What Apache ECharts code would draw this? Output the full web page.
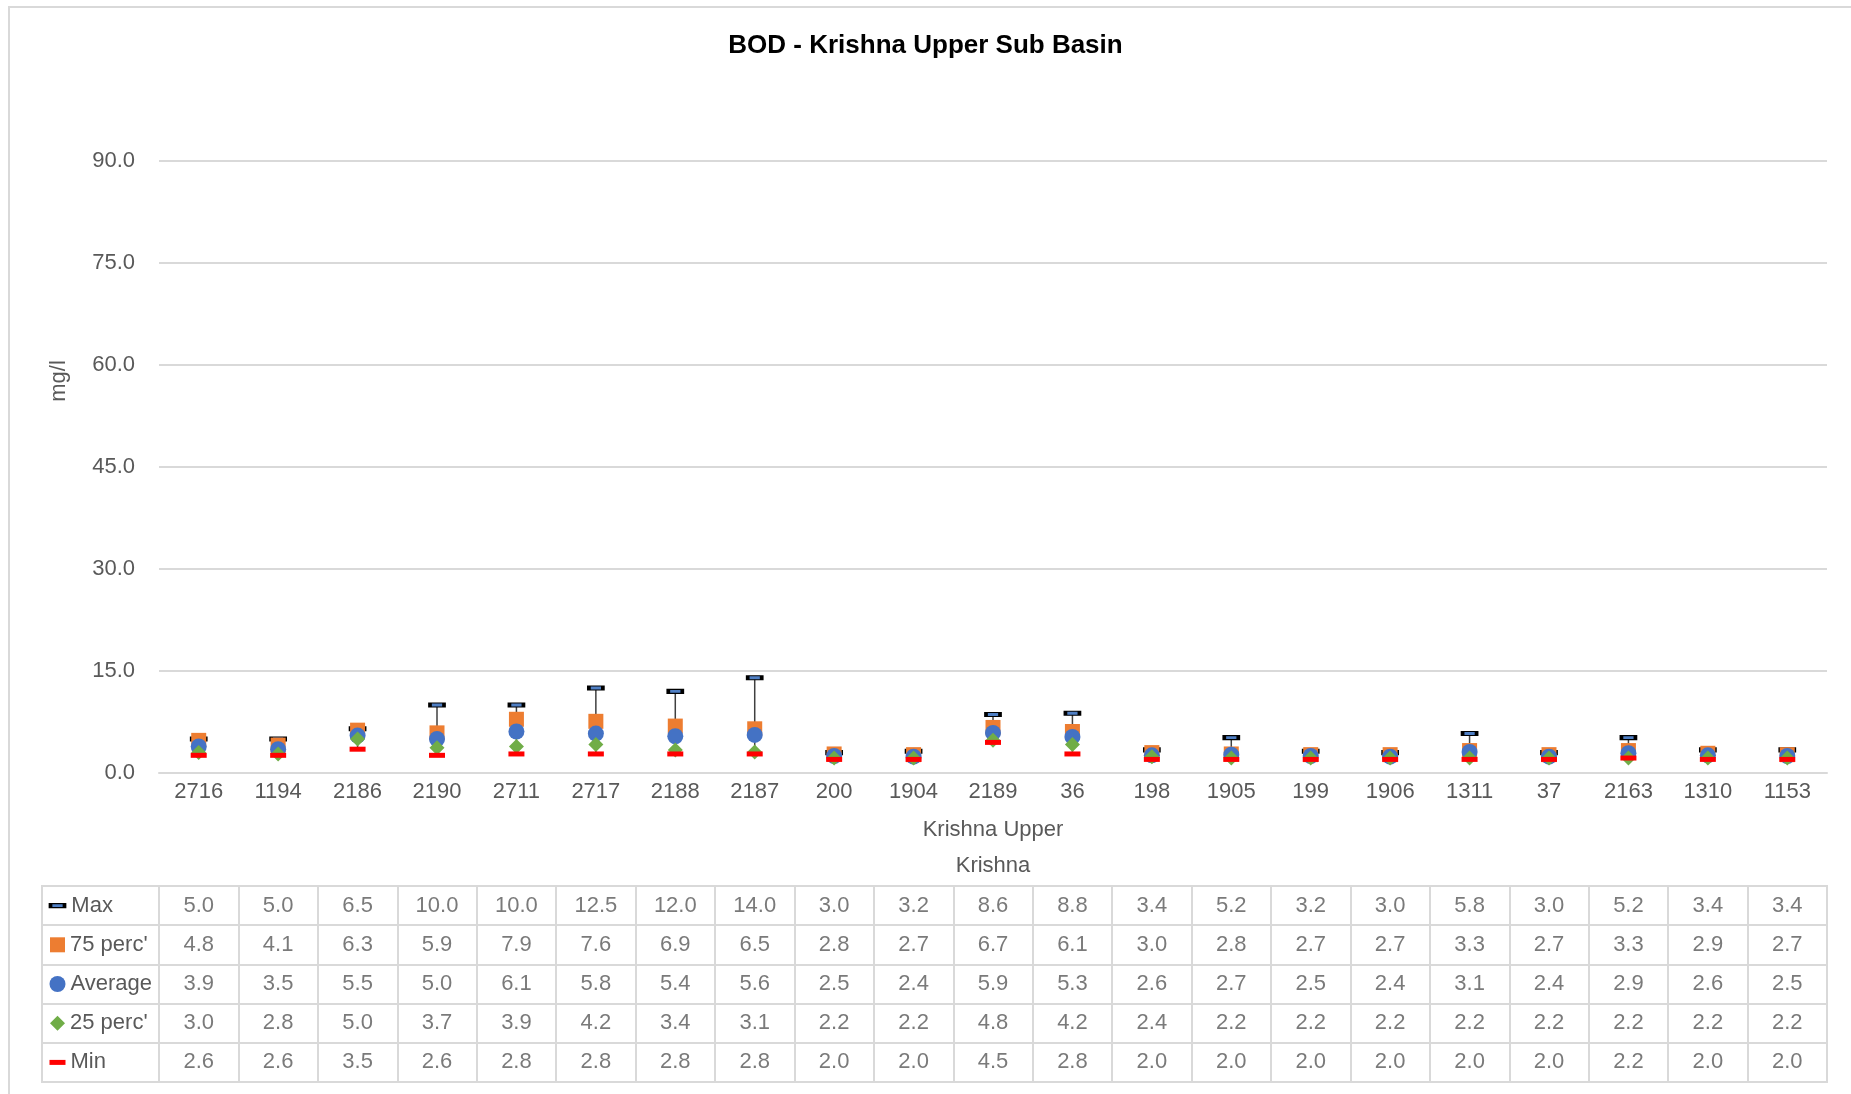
<!DOCTYPE html>
<html>
<head>
<meta charset="utf-8">
<title>BOD - Krishna Upper Sub Basin</title>
<script src="https://cdn.jsdelivr.net/npm/echarts@6/dist/echarts.min.js"></script>
<style>
    html, body { margin: 0; padding: 0; background: #fff; }
    #chart { width: 1851px; height: 1094px; }
</style>
</head>
<body>
<div id="chart"></div>
<script>
var sites = ['2716', '1194', '2186', '2190', '2711', '2717', '2188', '2187', '200', '1904', '2189',
             '36', '198', '1905', '199', '1906', '1311', '37', '2163', '1310', '1153'];
var maxVals = [5.0, 5.0, 6.5, 10.0, 10.0, 12.5, 12.0, 14.0, 3.0, 3.2, 8.6, 8.8, 3.4, 5.2, 3.2, 3.0, 5.8, 3.0, 5.2, 3.4, 3.4];
var p75Vals = [4.8, 4.1, 6.3, 5.9, 7.9, 7.6, 6.9, 6.5, 2.8, 2.7, 6.7, 6.1, 3.0, 2.8, 2.7, 2.7, 3.3, 2.7, 3.3, 2.9, 2.7];
var avgVals = [3.9, 3.5, 5.5, 5.0, 6.1, 5.8, 5.4, 5.6, 2.5, 2.4, 5.9, 5.3, 2.6, 2.7, 2.5, 2.4, 3.1, 2.4, 2.9, 2.6, 2.5];
var p25Vals = [3.0, 2.8, 5.0, 3.7, 3.9, 4.2, 3.4, 3.1, 2.2, 2.2, 4.8, 4.2, 2.4, 2.2, 2.2, 2.2, 2.2, 2.2, 2.2, 2.2, 2.2];
var minVals = [2.6, 2.6, 3.5, 2.6, 2.8, 2.8, 2.8, 2.8, 2.0, 2.0, 4.5, 2.8, 2.0, 2.0, 2.0, 2.0, 2.0, 2.0, 2.2, 2.0, 2.0];
var rowNames = ['Max', "75 perc'", 'Average', "25 perc'", 'Min'];
var subBasin = ['Krishna Upper'];
var basin = ['Krishna'];

var font = "'Liberation Sans Narrow', 'Arial Narrow', 'Liberation Sans', Arial, sans-serif";
var fs = 22;
var txtCol = '#595959';
var lineCol = '#D9D9D9';

// marker look of each row (Max, 75, Average, 25, Min)
var rowSymbols = [
    { symbol: 'rect', symbolSize: [14, 4], itemStyle: { color: '#4f7fc4', borderColor: '#000', borderWidth: 2, opacity: 1 } },
    { symbol: 'rect', symbolSize: 15, itemStyle: { color: '#ED7D31', opacity: 1 } },
    { symbol: 'circle', symbolSize: 16, itemStyle: { color: '#4472C4', opacity: 1 } },
    { symbol: 'diamond', symbolSize: 15, itemStyle: { color: '#70AD47', opacity: 1 } },
    { symbol: 'rect', symbolSize: [16, 5], itemStyle: { color: '#FF0000', opacity: 1 } }
];
var rowData = [maxVals, p75Vals, avgVals, p25Vals, minVals];

var series = [];

// high-low line behind the markers
series.push({
    type: 'custom',
    xAxisIndex: 0,
    yAxisIndex: 0,
    z: 1,
    silent: true,
    data: sites.map(function (s, i) { return [i, minVals[i], maxVals[i]]; }),
    renderItem: function (params, api) {
        var lo = api.coord([api.value(0), api.value(1)]);
        var hi = api.coord([api.value(0), api.value(2)]);
        return {
            type: 'line',
            shape: { x1: lo[0], y1: lo[1], x2: hi[0], y2: hi[1] },
            style: { stroke: '#404040', lineWidth: 1.5 }
        };
    }
});

for (var k = 0; k < rowNames.length; k++) {
    series.push({
        name: rowNames[k],
        type: 'scatter',
        xAxisIndex: 0,
        yAxisIndex: 0,
        z: 2,
        symbol: rowSymbols[k].symbol,
        symbolSize: rowSymbols[k].symbolSize,
        itemStyle: rowSymbols[k].itemStyle,
        data: rowData[k]
    });
}

// data table values
var cells = [];
rowData.forEach(function (vals, r) {
    vals.forEach(function (v, i) { cells.push([i, r, v]); });
});
series.push({
    type: 'scatter',
    xAxisIndex: 3,
    yAxisIndex: 1,
    silent: true,
    symbolSize: 1,
    itemStyle: { color: 'rgba(0,0,0,0)' },
    label: {
        show: true,
        position: 'inside',
        fontFamily: font,
        fontSize: fs,
        color: txtCol,
        formatter: function (p) { return p.value[2].toFixed(1); }
    },
    data: cells
});

// legend keys in the table's first column
series.push({
    type: 'scatter',
    xAxisIndex: 4,
    yAxisIndex: 2,
    silent: true,
    label: {
        show: true,
        position: 'right',
        distance: 5,
        fontFamily: font,
        fontSize: fs,
        color: txtCol,
        formatter: function (p) { return p.name; }
    },
    data: rowNames.map(function (n, r) {
        return {
            name: n,
            value: [15.5, r],
            symbol: rowSymbols[r].symbol,
            symbolSize: rowSymbols[r].symbolSize,
            itemStyle: rowSymbols[r].itemStyle
        };
    })
});

var hidden = { axisLine: { show: false }, axisTick: { show: false }, axisLabel: { show: false } };

var option = {
    backgroundColor: '#fff',
    animation: false,
    title: {
        text: 'BOD - Krishna Upper Sub Basin',
        left: 'center',
        top: 33,
        padding: [0, 0, 0, 9],
        textStyle: { fontFamily: font, fontSize: 26, fontWeight: 'bold', color: '#000' }
    },
    graphic: [
        {
            type: 'rect',
            shape: { x: 9, y: 7, width: 1900, height: 1200 },
            style: { fill: 'none', stroke: lineCol, lineWidth: 2 },
            silent: true
        },
        {
            type: 'text',
            x: 59,
            y: 381,
            rotation: Math.PI / 2,
            style: {
                text: 'mg/l',
                fontFamily: font,
                fontSize: fs,
                fill: txtCol,
                align: 'center',
                verticalAlign: 'middle'
            }
        }
    ],
    grid: [
        { left: 159, right: 24, top: 161, bottom: 321 },
        { left: 159, right: 24, top: 886, height: 196, show: true, borderColor: lineCol, borderWidth: 2 },
        { left: 42, width: 117, top: 886, height: 196, show: true, borderColor: lineCol, borderWidth: 2 }
    ],
    xAxis: [
        {
            gridIndex: 0,
            type: 'category',
            position: 'bottom',
            data: sites,
            axisLine: { lineStyle: { color: lineCol, width: 2 } },
            axisTick: { interval: 0, length: 37, lineStyle: { color: lineCol, width: 2 } },
            axisLabel: { interval: 0, margin: 8, fontFamily: font, fontSize: fs, color: txtCol }
        },
        {
            gridIndex: 0,
            type: 'category',
            position: 'bottom',
            data: subBasin,
            axisLine: { show: false },
            axisTick: { interval: 0, length: 113, lineStyle: { color: lineCol, width: 2 } },
            axisLabel: { margin: 46, fontFamily: font, fontSize: fs, color: txtCol }
        },
        {
            gridIndex: 0,
            type: 'category',
            position: 'bottom',
            data: basin,
            axisLine: { show: false },
            axisTick: { show: false },
            axisLabel: { margin: 82, fontFamily: font, fontSize: fs, color: txtCol }
        },
        Object.assign({
            gridIndex: 1,
            type: 'category',
            data: sites,
            splitLine: { show: true, interval: 0, lineStyle: { color: lineCol, width: 2 } }
        }, hidden),
        Object.assign({
            gridIndex: 2,
            type: 'value',
            min: 0,
            max: 117,
            splitLine: { show: false }
        }, hidden)
    ],
    yAxis: [
        {
            gridIndex: 0,
            type: 'value',
            min: 0,
            max: 90,
            interval: 15,
            axisLine: { show: false },
            axisTick: { show: false },
            axisLabel: {
                margin: 24,
                fontFamily: font,
                fontSize: fs,
                color: txtCol,
                formatter: function (v) { return v.toFixed(1); }
            },
            splitLine: { lineStyle: { color: lineCol, width: 2 } }
        },
        Object.assign({
            gridIndex: 1,
            type: 'category',
            inverse: true,
            data: rowNames,
            splitLine: { show: true, interval: 0, lineStyle: { color: lineCol, width: 2 } }
        }, hidden),
        Object.assign({
            gridIndex: 2,
            type: 'category',
            inverse: true,
            data: rowNames,
            splitLine: { show: true, interval: 0, lineStyle: { color: lineCol, width: 2 } }
        }, hidden)
    ],
    series: series
};

var myChart = echarts.init(document.getElementById('chart'));
myChart.setOption(option);
</script>
</body>
</html>
